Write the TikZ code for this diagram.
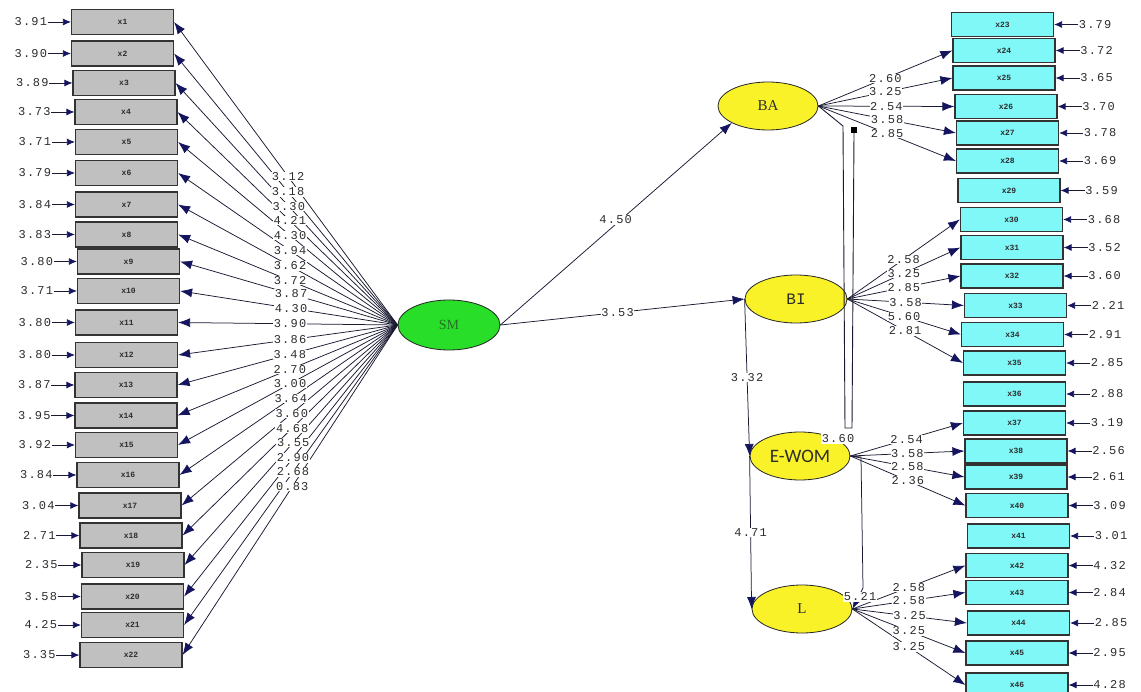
\documentclass[tikz,border=0pt]{standalone}
\usepackage{fontspec}
\usetikzlibrary{arrows.meta,shapes.geometric}
\newfontfamily\numfont[LetterSpace=10]{Liberation Mono}
\newfontfamily\monofont{Liberation Mono}
\newfontfamily\seriffont{Liberation Serif}
\newfontfamily\carlitofont{Carlito}
\definecolor{navy}{RGB}{20,20,95}
\definecolor{linec}{RGB}{25,25,50}
\definecolor{gbox}{RGB}{192,192,192}
\definecolor{cbox}{RGB}{128,248,248}
\definecolor{yel}{RGB}{250,242,40}
\definecolor{grn}{RGB}{40,222,40}
\definecolor{dgrn}{RGB}{40,110,40}
\definecolor{txt}{RGB}{45,45,45}
\def\leftdata{1/122.5/22/3.91/3.12, 2/122.5/53.5/3.90/3.18, 3/124/83/3.89/3.30, 4/126/112/3.73/4.21, 5/126.5/142/3.71/4.30, 6/126.5/173/3.79/3.94, 7/126.5/204.5/3.84/3.62, 8/126.5/234.5/3.83/3.72, 9/128.5/261.5/3.80/3.87, 10/128.5/291/3.71/4.30, 11/126.5/322.5/3.80/3.90, 12/126.5/355/3.80/3.86, 13/126/385/3.87/3.48, 14/126/415.5/3.95/2.70, 15/126.5/445/3.92/3.00, 16/128/475/3.84/3.64, 17/130/505.5/3.04/3.60, 18/131/535.5/2.71/4.68, 19/133/565/2.35/3.55, 20/132.5/596.5/3.58/2.90, 21/132.5/625/4.25/2.68, 22/131/655/3.35/0.83}
\def\rightdata{23/1002.5/24.5/3.79, 24/1004/50.5/3.72, 25/1004/78/3.65, 26/1006/106.5/3.70, 27/1007.5/133/3.78, 28/1007.5/161/3.69, 29/1009/190.5/3.59, 30/1011.5/219.5/3.68, 31/1012/247.5/3.52, 32/1012/276/3.60, 33/1015.5/305.5/2.21, 34/1012.5/334.5/2.91, 35/1014.5/363/2.85, 36/1014.5/394/2.88, 37/1014.5/423/3.19, 38/1016/451/2.56, 39/1016/477/2.61, 40/1017/505.5/3.09, 41/1018.5/536/3.01, 42/1017/565.5/4.32, 43/1017/592.5/2.84, 44/1018.5/623/2.85, 45/1017/653/2.95, 46/1017/685/4.28}
\def\loaddata{ba/24/2.60, ba/25/3.25, ba/26/2.54, ba/27/3.58, ba/28/2.85, bi/30/2.58, bi/31/3.25, bi/32/2.85, bi/33/3.58, bi/34/5.60, bi/35/2.81, ew/37/2.54, ew/38/3.58, ew/39/2.58, ew/40/2.36, l/42/2.58, l/43/2.58, l/44/3.25, l/45/3.25, l/46/3.25}
\begin{document}
\begin{tikzpicture}[x=1pt,y=-1pt,
  obs/.style={draw=black!80, line width=1.2pt, minimum width=102pt, minimum height=25pt, inner sep=0pt, font=\monofont\fontsize{8}{9}\selectfont\bfseries, text=txt},
  lbox/.style={obs, fill=gbox},
  rbox/.style={obs, fill=cbox, minimum height=24pt},
  lat/.style={ellipse, draw=black!85, line width=0.8pt, minimum width=100pt, minimum height=48pt, inner sep=0pt, fill=yel, text=txt},
  num/.style={font=\numfont\fontsize{12}{13}\selectfont, text=txt, inner sep=0.6pt},
  coef/.style={num, fill=white},
  link/.style={draw=linec, line width=0.75pt},
  arr/.style={link, -{Latex[length=12pt,width=9pt,color=navy]}},
  errarr/.style={link, -{Latex[length=8pt,width=7pt,color=navy]}}
]
\useasboundingbox (0,0) rectangle (1141,692);
\clip (0,0) rectangle (1141,692);
\fill[white] (0,0) rectangle (1141,692);

% latent variables
\node[lat, fill=grn, minimum width=102pt, minimum height=50pt, text=dgrn, font=\seriffont\fontsize{14}{16}\selectfont] (sm) at (449,325) {SM};
\node[lat, font=\seriffont\fontsize{15}{17}\selectfont] (ba) at (768,106) {BA};
\node[lat, minimum width=102pt, font=\monofont\fontsize{16}{18}\selectfont] (bi) at (796,299) {BI};
\node[lat, font=\carlitofont\fontsize{19}{21}\selectfont] (ew) at (800,456) {E-WOM};
\node[lat, font=\seriffont\fontsize{15}{17}\selectfont] (l) at (802,609) {L};

% left indicators
\foreach \n/\cx/\cy/\e/\c in \leftdata {
  \node[lbox] (x\n) at (\cx,\cy) {x\n};
  \node[num, anchor=east] (e\n) at ([xshift=-23pt]x\n.west) {\e};
  \draw[errarr] (e\n.east) -- (x\n.west);
  \draw[arr] (sm.west) -- (x\n.east);
}
\foreach \n/\cx/\cy/\e/\c in \leftdata {
  \path (sm.west) -- (x\n.east) node[coef, pos=0.49] {\c};
}

% right indicators
\foreach \n/\cx/\cy/\e in \rightdata {
  \node[rbox] (x\n) at (\cx,\cy) {x\n};
  \node[num, anchor=west] (e\n) at ([xshift=24pt]x\n.east) {\e};
  \draw[errarr] (e\n.west) -- (x\n.east);
}
\foreach \lt/\n/\c in \loaddata {
  \draw[arr] (\lt.east) -- (x\n.west);
}
\foreach \lt/\n/\c in \loaddata {
  \path (\lt.east) -- (x\n.west) node[coef, pos=0.5] {\c};
}

% structural paths
\draw[arr] (sm.east) -- (ba.205) node[coef, pos=0.52, xshift=-5pt] {4.50};
\draw[arr] (sm.east) -- (bi.west) node[coef, pos=0.48] {3.53};
\draw[arr] (bi.west) -- (ew.west) node[coef, pos=0.5] {3.32};
\draw[arr] (ew.west) -- (l.west) node[coef, pos=0.5] {4.71};

% BA -- E-WOM bracket
\coordinate (b1) at (843,126);
\coordinate (b2) at (845,428);
\coordinate (b3) at (852,428);
\coordinate (b4) at (854,133);
\draw[link, line width=0.9pt] (ba.east) -- (b1) -- (b2) -- (b3) -- (b4);
\node[fill=black, minimum size=6pt, inner sep=0pt] (sq) at (854,130) {};
\node[coef] (c360) at (838,439) {3.60};

% E-WOM -- L path
\coordinate (w1) at (861,457);
\coordinate (w2) at (863,588);
\draw[arr] (ew.east) -- (w1) -- (w2) -- (l.east);
\node[coef] (c521) at (860,597) {5.21};
\end{tikzpicture}
\end{document}
